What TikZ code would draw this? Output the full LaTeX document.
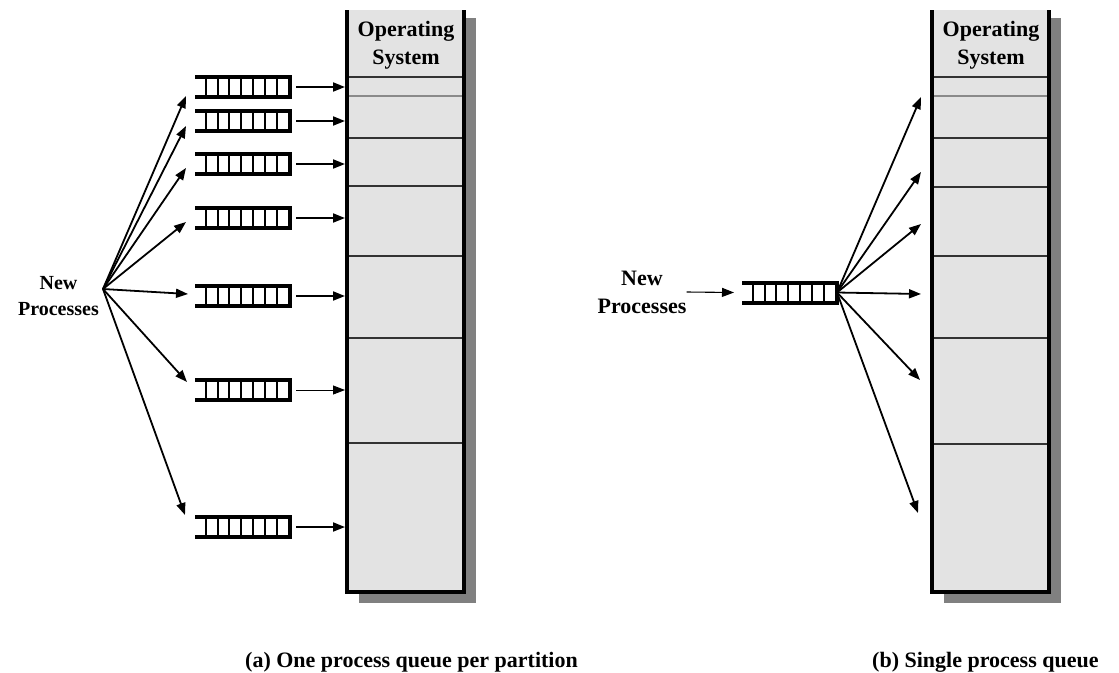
\documentclass[tikz,border=0pt]{standalone}
\usepackage{fontspec}
\setmainfont{Liberation Serif}
\usetikzlibrary{arrows.meta,calc,backgrounds}
\definecolor{colgray}{HTML}{E3E3E3}
\definecolor{shadowgray}{HTML}{808080}
\definecolor{darkline}{HTML}{333333}
\definecolor{thingray}{HTML}{8A8A8A}
\begin{document}
\begin{tikzpicture}[x=1pt,y=-1pt,
  colfill/.style={fill=colgray, draw=none, minimum width=117pt, minimum height=582pt, inner sep=0pt, outer sep=0pt},
  colborder/.style={line width=3.2pt, black, line join=miter},
  pline/.style={line width=2.2pt, darkline},
  thinline/.style={line width=1.2pt, thingray},
  queue/.style={minimum width=95pt, minimum height=20pt, inner sep=0pt, outer sep=0pt},
  qline/.style={line width=4pt, black, line join=miter},
  qsep/.style={line width=2pt, black},
  arr/.style={line width=1.8pt, -{Triangle[length=12pt,width=9pt]}},
  lbl/.style={font=\bfseries\fontsize{22}{28}\selectfont, align=center, inner sep=0pt},
  smalllbl/.style={font=\bfseries\fontsize{20}{26}\selectfont, align=center, inner sep=0pt},
  caption/.style={font=\bfseries\fontsize{22}{26}\selectfont, inner sep=0pt, anchor=west}
]
\useasboundingbox (0,0) rectangle (1119,672);

% ---------- (a) left ----------
\node[colfill] (colL) at (405.5,301) {};
\begin{pgfonlayer}{background}
  \fill[shadowgray] ($(colL.north west)+(12,8)$) rectangle ($(colL.south east)+(12,11)$);
\end{pgfonlayer}
\draw[pline, line width=2.8pt] (347,77) -- (464,77);
\draw[thinline] (347,96) -- (464,96);
\foreach \yy in {138,186,256,338,443}
  \draw[pline] (347,\yy) -- (464,\yy);
\draw[colborder] (colL.north west) -- (colL.south west) -- (colL.south east) -- (colL.north east);
\node[lbl] (osL) at (406,45) {Operating\\System};

\node[queue] (q1) at (242.5,87) {};
\node[queue] (q2) at (242.5,121) {};
\node[queue] (q3) at (242.5,164) {};
\node[queue] (q4) at (242.5,218) {};
\node[queue] (q5) at (242.5,296) {};
\node[queue] (q6) at (242.5,390) {};
\node[queue] (q7) at (242.5,527) {};

% ---------- (b) right ----------
\node[colfill] (colR) at (990.5,301) {};
\begin{pgfonlayer}{background}
  \fill[shadowgray] ($(colR.north west)+(12,8)$) rectangle ($(colR.south east)+(12,11)$);
\end{pgfonlayer}
\draw[pline, line width=2.8pt] (932,77) -- (1049,77);
\draw[thinline] (932,96) -- (1049,96);
\foreach \yy in {138,187,256,338,444}
  \draw[pline] (932,\yy) -- (1049,\yy);
\draw[colborder] (colR.north west) -- (colR.south west) -- (colR.south east) -- (colR.north east);
\node[lbl] (osR) at (991,45) {Operating\\System};

\node[queue] (rq) at (789.5,292.5) {};

% queue drawings
\foreach \qn in {q1,q2,q3,q4,q5,q6,q7,rq} {
  \draw[qline] (\qn.north west) -- (\qn.north east) -- (\qn.south east) -- (\qn.south west);
  \foreach \k in {0,...,6}
    \draw[qsep] ($(\qn.north west)+(10.7+11.8*\k,0)$) -- ($(\qn.south west)+(10.7+11.8*\k,0)$);
}

% queue -> column arrows (a)
\foreach \qn in {q1,q2,q3,q4,q5,q7}
  \draw[arr, shorten >=2pt] ([xshift=6pt]\qn.east) -- (\qn.east -| colL.west);
\draw[arr, line width=0.9pt, shorten >=2pt] ([xshift=6pt]q6.east) -- (q6.east -| colL.west);

% New processes (a)
\node[smalllbl, anchor=east] (npL) at (99,296) {New\\Processes};
\coordinate (fL) at (103,289);
\coordinate (tL1) at (186,96);
\coordinate (tL2) at (186,126);
\coordinate (tL3) at (186,168);
\coordinate (tL4) at (186,222);
\coordinate (tL5) at (188,294);
\coordinate (tL6) at (187,382);
\coordinate (tL7) at (185,515);
\foreach \t in {tL1,tL2,tL3,tL4,tL5,tL6,tL7}
  \draw[arr] (fL) -- (\t);

% New processes (b)
\node[lbl] (npR) at (642,292) {New\\Processes};
\draw[arr, line width=1.1pt] (npR.east) -- ([xshift=-8pt]rq.west);
\coordinate (tR1) at (921,97);
\coordinate (tR2) at (921,172);
\coordinate (tR3) at (921,224);
\coordinate (tR4) at (921,294);
\coordinate (tR5) at (920,380);
\coordinate (tR6) at (918,513);
\foreach \t in {tR1,tR2,tR3,tR4,tR5,tR6}
  \draw[arr] (rq.east) -- (\t);

% captions
\node[caption] (capA) at (245,662) {(a) One process queue per partition};
\node[caption] (capB) at (872,662) {(b) Single process queue};
\end{tikzpicture}
\end{document}
